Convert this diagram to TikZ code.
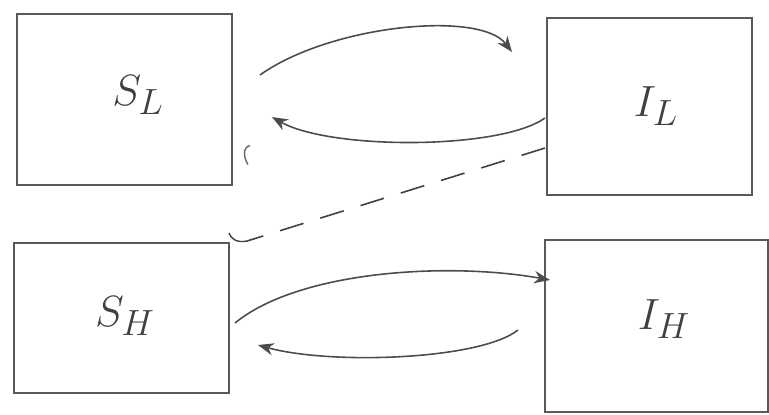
\documentclass[tikz,border=0pt]{standalone}
\usetikzlibrary{calc,arrows.meta}
\begin{document}
\begin{tikzpicture}[x=0.02cm,y=-0.02cm,
    compBox/.style={draw=black!65,line width=0.6pt,inner sep=0pt,outer sep=0pt},
    compLabel/.style={black!75,font=\fontsize{30}{30}\selectfont},
    flowArrow/.style={-{Stealth[length=9pt,width=7pt]},black!70,line width=0.9pt},
    flowDash/.style={black!75,line width=0.9pt,dash pattern=on 14pt off 10pt},
]
\useasboundingbox (0,0) rectangle (769,414);
% Compartments
\node[compBox,minimum width=4.3cm,minimum height=3.42cm] (SL) at (124.5,99.5) {};
\node[compBox,minimum width=4.1cm,minimum height=3.54cm] (IL) at (649.5,106.5) {};
\node[compBox,minimum width=4.3cm,minimum height=3.0cm] (SH) at (121.5,318) {};
\node[compBox,minimum width=4.46cm,minimum height=3.44cm] (IH) at (656.5,326) {};
% Labels
\node[compLabel] (SLlab) at (138,95) {$S_L$};
\node[compLabel] (ILlab) at (656,106) {$I_L$};
\node[compLabel] (SHlab) at (125,316) {$S_H$};
\node[compLabel] (IHlab) at (664,319) {$I_H$};
% Top pair
\draw[flowArrow] ($(SL.east)+(28,-24.5)$) .. controls +(70,-50) and +(-32,-42) .. ($(IL.west)+(-35,-54.5)$);
\draw[flowArrow] ($(IL.west)+(-2,11.5)$) .. controls +(-45,32) and +(58,33) .. ($(SL.east)+(40,17.5)$);
% Cross link
\draw[flowDash] ($(IL.west)+(-2,41.5)$) -- ($(SH.north east)+(18,-2)$);
\draw[black!75,line width=0.8pt] ($(SH.north east)+(18,-2)$) .. controls +(-10,2) and +(2,6) .. ($(SH.north east)+(0,-10)$);
\draw[black!60,line width=0.8pt] ($(SL.east)+(18,46)$) .. controls +(-8,2) and +(-4,-6) .. ($(SL.east)+(16,65)$);
% Bottom pair
\draw[flowArrow] ($(SH.east)+(6,5)$) .. controls +(65,-53) and +(-100,-18) .. ($(IH.west)+(5,-46)$);
\draw[flowArrow] ($(IH.west)+(-27,4)$) .. controls +(-38,30) and +(72,20) .. ($(SH.east)+(29,27)$);
\end{tikzpicture}
\end{document}
